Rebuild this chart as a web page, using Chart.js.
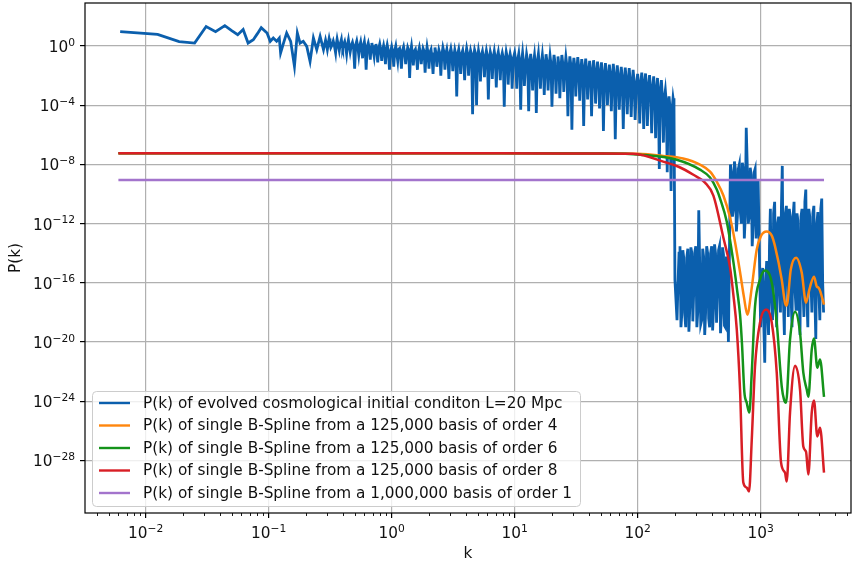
<!DOCTYPE html>
<html>
<head>
<meta charset="utf-8">
<script src="https://cdn.jsdelivr.net/npm/chart.js@4.4.1/dist/chart.umd.min.js"></script>
<style>
  html, body { margin: 0; padding: 0; background: #fff; }
</style>
</head>
<body>
<canvas id="pk" width="853" height="568"></canvas>
<script>
// tick labels (powers of ten)
const xTickExp = [-2, -1, 0, 1, 2, 3];
const yTickExp = [-28, -24, -20, -16, -12, -8, -4, 0];

const seriesLabels = [
  'P(k) of evolved cosmological initial conditon L=20 Mpc',
  'P(k) of single B-Spline from a 125,000 basis of order 4',
  'P(k) of single B-Spline from a 125,000 basis of order 6',
  'P(k) of single B-Spline from a 125,000 basis of order 8',
  'P(k) of single B-Spline from a 1,000,000 basis of order 1'
];
const seriesColors = ['#0b5fad', '#ff860d', '#14931a', '#d81e25', '#a374cc'];

// evolved initial condition
const blueK = [
  0.0062, 0.0125, 0.0187, 0.025, 0.031, 0.037, 0.044, 0.050, 0.056, 0.062, 0.068, 0.075, 0.081, 0.087,
  0.097, 0.103, 0.109, 0.116, 0.122, 0.125, 0.132, 0.140, 0.151, 0.162, 0.171, 0.180, 0.191, 0.204, 0.217, 0.231, 0.246, 0.262, 0.279,
  // 0.3 - 1
  0.29, 0.295, 0.30, 0.305, 0.31, 0.315, 0.32, 0.3275, 0.335, 0.3425,
  0.35, 0.355, 0.36, 0.3675, 0.375, 0.3825, 0.39, 0.395, 0.40, 0.4075,
  0.415, 0.4225, 0.43, 0.4375, 0.445, 0.4525, 0.46, 0.47, 0.48, 0.49,
  0.50, 0.51, 0.52, 0.53, 0.54, 0.55, 0.56, 0.57, 0.58, 0.59,
  0.60, 0.61, 0.62, 0.6325, 0.645, 0.6575, 0.67, 0.68, 0.69, 0.705,
  0.72, 0.7325, 0.745, 0.7575, 0.77, 0.785, 0.80, 0.815, 0.83, 0.845,
  0.86, 0.875, 0.89, 0.905, 0.92, 0.94, 0.96, 0.98,
  // 1 - 10
  1.00, 1.02, 1.04, 1.06, 1.08, 1.10, 1.12, 1.14, 1.16, 1.18,
  1.20, 1.225, 1.25, 1.275, 1.30, 1.325, 1.35, 1.375, 1.40, 1.425,
  1.45, 1.475, 1.50, 1.53, 1.56, 1.59, 1.62, 1.65, 1.68, 1.71,
  1.74, 1.77, 1.80, 1.835, 1.87, 1.905, 1.94, 1.975, 2.01, 2.05,
  2.09, 2.13, 2.17, 2.21, 2.25, 2.29, 2.33, 2.375, 2.42, 2.465,
  2.51, 2.56, 2.61, 2.66, 2.71, 2.76, 2.81, 2.865, 2.92, 2.975,
  3.03, 3.085, 3.14, 3.2, 3.26, 3.32, 3.38, 3.445, 3.51, 3.575,
  3.64, 3.71, 3.78, 3.85, 3.92, 3.995, 4.07, 4.145, 4.22, 4.3,
  4.38, 4.465, 4.55, 4.635, 4.72, 4.81, 4.90, 4.99, 5.08, 5.175,
  5.27, 5.37, 5.47, 5.575, 5.68, 5.785, 5.89, 6.0, 6.11, 6.225,
  6.34, 6.46, 6.58, 6.705, 6.83, 6.96, 7.09, 7.225, 7.36, 7.5,
  7.64, 7.785, 7.93, 8.08, 8.23, 8.385, 8.54, 8.7, 8.86, 9.025,
  9.19, 9.365, 9.54, 9.77,
  // 10 - 100
  10.0, 10.2, 10.4, 10.6, 10.8, 11.0, 11.2, 11.4, 11.6, 11.8,
  12.0, 12.25, 12.5, 12.75, 13.0, 13.25, 13.5, 13.75, 14.0, 14.25,
  14.5, 14.75, 15.0, 15.3, 15.6, 15.9, 16.2, 16.5, 16.8, 17.1,
  17.4, 17.7, 18.0, 18.35, 18.7, 19.05, 19.4, 19.75, 20.1, 20.5,
  20.9, 21.3, 21.7, 22.1, 22.5, 22.9, 23.3, 23.75, 24.2, 24.65,
  25.1, 25.6, 26.1, 26.6, 27.1, 27.6, 28.1, 28.65, 29.2, 29.75,
  30.3, 30.85, 31.4, 32.0, 32.6, 33.2, 33.8, 34.45, 35.1, 35.75,
  36.4, 37.1, 37.8, 38.5, 39.2, 39.95, 40.7, 41.45, 42.2, 43.0,
  43.8, 44.65, 45.5, 46.35, 47.2, 48.1, 49.0, 49.9, 50.8, 51.75,
  52.7, 53.7, 54.7, 55.75, 56.8, 57.85, 58.9, 60.0, 61.1, 62.25,
  63.4, 64.6, 65.8, 67.05, 68.3, 69.6, 70.9, 72.25, 73.6, 75.0,
  76.4, 77.85, 79.3, 80.8, 82.3, 83.85, 85.4, 87.0, 88.6, 90.25,
  91.9, 93.65, 95.4, 97.7,
  // 100 - 200, then the drop
  100, 102, 104, 106, 108, 110, 112, 114, 116, 118,
  120, 122.5, 125, 127.5, 130, 132.5, 135, 137.5, 140, 142.5,
  145, 147.5, 150, 153, 156, 159, 162, 165, 168, 171,
  174, 177, 180, 183.5, 187, 190.5, 194, 197.5, 201,
  // low band
  209, 213, 217, 221, 225, 229, 233, 237, 242, 246, 251, 256, 261, 266, 271, 276, 281, 286, 292, 297,
  303, 308, 314, 320, 326, 332, 338, 344, 351, 357, 364, 371, 378, 385, 392, 400, 407, 415, 422, 430,
  438, 446, 455, 463, 472, 481, 490, 499, 508, 517, 527, 537, 547,
  // high band
  568, 579, 590, 601, 612, 623, 635, 647, 659, 671, 684, 697, 710, 723, 737, 750, 764, 778, 793, 808,
  823, 838, 854, 870, 886, 902, 919, 936, 954,
  // tail
  1000, 1020, 1040, 1060, 1080, 1100, 1120, 1140, 1160, 1180, 1200, 1225, 1250, 1275, 1300, 1325, 1350, 1375, 1400, 1425,
  1450, 1475, 1500, 1530, 1560, 1590, 1620, 1650, 1680, 1710, 1740, 1770, 1800, 1835, 1870, 1905, 1940, 1975, 2010, 2050,
  2090, 2130, 2170, 2210, 2250, 2290, 2330, 2375, 2420, 2465, 2510, 2560, 2610, 2660, 2710, 2760, 2810, 2865, 2920, 2975,
  3030, 3085, 3140, 3195, 3250
];
const blueP = [
  9.4, 6.2, 2.0, 1.6, 21, 9.4, 24, 11, 5.9, 13, 1.6, 2.7, 6.9, 17.5,
  7.7, 2.1, 3.5, 2.1, 3.5, 0.34, 1.6, 7.7, 2.1, 0.043, 7.7, 1.6, 2.1, 0.95, 0.093, 3.5, 0.57, 4.5, 0.57,
  // 0.3 - 1
  2.5, 1.3, 0.6, 1.5, 3.2, 1.6, 0.8, 1.2, 2.2, 1.0,
  0.35, 1.4, 3.0, 1.2, 0.5, 1.5, 2.8, 1.1, 0.7, 1.3,
  2.0, 0.9, 0.3, 1.2, 2.6, 1.0, 0.4, 1.1, 1.8, 0.8,
  0.03, 1.2, 2.2, 0.9, 0.25, 1.0, 1.9, 0.7, 0.15, 1.1,
  2.0, 0.6, 0.025, 0.9, 1.6, 0.7, 0.12, 0.8, 1.6, 0.6,
  0.2, 0.9, 1.4, 0.5, 0.08, 0.7, 1.4, 0.6, 0.1, 0.55,
  1.1, 0.5, 0.06, 0.6, 1.2, 0.45, 0.025, 0.4,
  // 1 - 10
  0.9, 0.4, 0.04, 0.5, 1.0, 0.3, 0.1, 0.6, 0.7, 0.25,
  0.03, 0.5, 0.9, 0.35, 0.06, 0.3, 0.8, 0.5, 7e-3, 0.4,
  1.0, 0.3, 0.05, 0.45, 0.6, 0.2, 0.025, 0.4, 0.8, 0.35,
  0.06, 0.3, 0.7, 0.45, 0.016, 0.25, 0.9, 0.35, 0.03, 0.4,
  0.6, 0.15, 0.013, 0.3, 0.8, 0.35, 0.04, 0.2, 0.55, 0.3,
  0.01, 0.25, 0.8, 0.4, 0.025, 0.3, 0.6, 0.2, 6e-3, 0.35,
  0.7, 0.3, 0.02, 0.2, 0.55, 0.25, 4e-4, 0.3, 0.6, 0.2,
  0.013, 0.3, 0.5, 0.15, 5e-3, 0.25, 0.7, 0.3, 0.01, 0.2,
  0.5, 0.25, 2.5e-5, 0.2, 0.55, 0.3, 1e-4, 0.15, 0.5, 0.2,
  4e-3, 0.25, 0.45, 0.15, 8e-3, 0.2, 0.5, 0.22, 2.5e-4, 0.12,
  0.4, 0.2, 6e-3, 0.18, 0.45, 0.15, 1.6e-3, 0.2, 0.4, 0.12,
  5e-3, 0.18, 0.35, 0.15, 8e-5, 0.1, 0.4, 0.18, 2.5e-3, 0.12,
  0.3, 0.13, 1.3e-3, 0.15,
  // 10 - 100
  0.35, 0.1, 1.3e-3, 0.12, 0.3, 0.06, 5e-5, 0.1, 0.35, 0.08,
  2e-3, 0.05, 0.28, 0.1, 4e-5, 0.06, 0.3, 0.04, 1e-3, 0.08,
  0.25, 0.05, 3e-5, 0.09, 0.3, 0.04, 1.3e-3, 0.07, 0.25, 0.05,
  5e-4, 0.03, 0.28, 0.08, 1e-3, 0.04, 0.22, 0.06, 8e-5, 0.03,
  0.25, 0.07, 6e-4, 0.04, 0.2, 0.05, 3e-4, 0.025, 0.25, 0.06,
  8e-4, 0.03, 0.18, 0.045, 1.8e-5, 0.02, 0.2, 0.05, 2.2e-6, 0.025,
  0.16, 0.04, 4e-4, 0.02, 0.18, 0.035, 2e-4, 0.015, 0.13, 0.03,
  4e-6, 0.02, 0.14, 0.025, 2.5e-4, 0.012, 0.1, 0.02, 1.8e-5, 0.01,
  0.11, 0.02, 1.3e-4, 0.008, 0.09, 0.015, 6e-5, 0.01, 0.08, 0.012,
  1.8e-6, 0.006, 0.07, 0.012, 1e-4, 0.005, 0.056, 0.01, 4e-5, 0.006,
  0.063, 0.009, 5e-7, 0.004, 0.05, 0.008, 5e-5, 0.004, 0.04, 0.006,
  2.5e-6, 0.003, 0.035, 0.005, 2.5e-5, 0.003, 0.032, 0.004, 1.6e-5, 0.002,
  0.025, 0.004, 1e-5, 0.002,
  // 100 - 200, then the drop
  0.013, 2e-3, 6e-6, 3e-3, 0.016, 1.5e-3, 2.5e-6, 3e-3, 0.014, 1e-3,
  4e-6, 2e-3, 0.011, 8e-4, 1.3e-6, 1.5e-3, 0.009, 6e-4, 6e-7, 1e-3,
  0.007, 5e-4, 5e-9, 8e-4, 5e-3, 3e-4, 3e-7, 3e-4, 1e-3, 1.5e-4,
  3e-9, 1e-4, 4e-4, 6e-5, 1.6e-10, 5e-5, 3e-4, 1e-4, 1.6e-16,
  // low band
  3e-19, 1e-16, 1e-14, 3e-14, 1e-19, 1e-18, 1.6e-14, 5e-15, 6e-19, 1e-19, 5e-15, 2e-14, 5e-20, 3e-18, 2.5e-14, 1e-14, 2.5e-19, 3e-17, 1.3e-14, 3e-14,
  1e-19, 1e-18, 8e-12, 1e-15, 1.6e-19, 3e-19, 2e-14, 6e-15, 3e-20, 1e-18, 3e-14, 1e-14, 4e-19, 1e-19, 1e-14, 3e-14, 6e-20, 3e-18, 4e-14, 1e-14,
  2e-19, 3e-17, 1.6e-14, 3e-14, 4e-20, 1e-18, 2.5e-14, 8e-15, 1.3e-19, 1e-19, 6e-15, 1e-16, 1e-20,
  // high band
  1e-8, 3e-9, 3e-12, 1e-11, 1.6e-8, 5e-9, 3e-13, 3e-12, 5e-9, 1e-8, 6e-12, 1e-12, 1.3e-8, 5e-9, 1e-13, 3e-12, 3e-6, 1e-8, 1e-12, 3e-12,
  6e-9, 2e-9, 3e-14, 1e-12, 3e-9, 5e-9, 1e-13, 1e-11, 1e-9,
  // tail
  1e-19, 3e-16, 1e-15, 2e-19, 4e-22, 1e-16, 3e-15, 1e-18, 3e-20, 3e-14, 1e-11, 1e-17, 3e-19, 5e-12, 3e-11, 1e-16, 1e-19, 1e-12, 3e-12, 3e-17,
  1e-18, 1e-11, 8e-9, 1e-17, 3e-20, 5e-12, 1.6e-11, 3e-16, 5e-19, 1e-11, 3e-12, 1e-17, 1e-19, 3e-12, 3e-11, 3e-17, 1.6e-18, 5e-12, 1.6e-12, 1e-16,
  3e-20, 3e-12, 1e-11, 3e-17, 5e-19, 3e-11, 2e-10, 1e-17, 1e-19, 1e-11, 3e-12, 3e-16, 1e-18, 5e-12, 1.6e-11, 1e-17, 1.6e-20, 1e-12, 6e-12, 3e-17,
  3e-19, 1e-11, 5e-11, 1e-16, 1e-18
];

// single B-spline spectra
const order4K = [0.006, 7.6, 50, 100, 161, 234, 321, 388, 440, 498, 564, 619, 680, 733, 780, 847, 929, 1007, 1121, 1232, 1310, 1485, 1578, 1630, 1758, 1941, 2159, 2339, 2489, 2717, 2857, 2958, 3040, 3276];
const order4P = [5.7e-8, 5.7e-8, 5.6e-8, 5.3e-8, 3.8e-8, 2.5e-8, 9.8e-9, 3.3e-9, 6.9e-10, 8e-11, 2.6e-12, 5.8e-14, 5.4e-16, 1e-17, 7.1e-19, 4.8e-17, 1.7e-14, 1.5e-13, 3e-13, 1.55e-13, 2.9e-14, 1.6e-16, 4.6e-18, 2.9e-18, 7.8e-16, 5e-15, 4.9e-16, 4.6e-18, 3.5e-17, 2.6e-16, 5.8e-17, 4.7e-17, 3e-17, 3.4e-18];

const order6K = [0.006, 7.6, 50, 105, 208, 321, 388, 440, 468, 530, 600, 643, 680, 706, 737, 771, 809, 847, 900, 988, 1086, 1232, 1352, 1485, 1550, 1609, 1734, 1905, 2091, 2224, 2371, 2444, 2603, 2717, 2890, 3040, 3276];
const order6P = [5.7e-8, 5.7e-8, 5.5e-8, 4.6e-8, 2.1e-8, 4.5e-9, 1.3e-9, 2e-10, 4.9e-11, 1.4e-12, 2.7e-15, 3.5e-17, 7.1e-19, 6.6e-21, 4.5e-24, 8e-25, 1.7e-25, 8.6e-23, 2.5e-18, 1.64e-16, 6.7e-16, 1.03e-16, 2e-19, 9.7e-24, 1.28e-24, 8e-25, 1.45e-20, 1.13e-18, 4.3e-20, 8.6e-23, 6.1e-24, 2e-24, 3.1e-21, 1.7e-20, 1.86e-22, 6.5e-22, 2e-24];

const order8K = [0.006, 7.6, 50, 92, 173, 215, 284, 353, 413, 498, 564, 600, 640, 680, 723, 771, 805, 847, 900, 988, 1107, 1232, 1352, 1466, 1578, 1630, 1734, 1905, 2091, 2224, 2339, 2444, 2603, 2717, 2890, 3040, 3276];
const order8P = [5.7e-8, 5.7e-8, 5.5e-8, 5.2e-8, 1.3e-8, 7e-9, 2e-9, 5.9e-10, 7.8e-11, 1.1e-13, 1.1e-15, 1.6e-17, 6.9e-20, 6.1e-24, 3.2e-30, 1.45e-30, 7.8e-31, 2.5e-27, 2.2e-22, 2e-19, 1.55e-18, 2e-19, 8.6e-23, 7.1e-29, 1.5e-29, 3.7e-30, 1.7e-25, 2.5e-22, 6.1e-24, 8.6e-28, 3.9e-28, 1.1e-29, 1.7e-25, 1.1e-24, 4.1e-27, 1.64e-26, 1.5e-29];

const order1K = [0.006, 1, 100, 3276];
const order1P = [8.9e-10, 8.9e-10, 8.9e-10, 8.9e-10];

const FONT = '"DejaVu Sans", sans-serif';
const FS = 15.3;

function pts(xs, ys) {
  return xs.map((x, i) => ({ x: x, y: ys[i] }));
}

function line(i, xs, ys, smooth, width) {
  return {
    label: seriesLabels[i],
    data: pts(xs, ys),
    borderColor: seriesColors[i],
    borderWidth: width,
    pointRadius: 0,
    tension: 0,
    cubicInterpolationMode: smooth ? 'monotone' : 'default',
    order: 5 - i
  };
}

// draws "10" with a raised exponent, like the mathtext labels
function pow10(ctx, e, x, y, align) {
  const exp = (e < 0 ? '\u2212' : '') + Math.abs(e);
  ctx.font = FS + 'px ' + FONT;
  const wb = ctx.measureText('10').width;
  ctx.font = (FS * 0.7) + 'px ' + FONT;
  const we = ctx.measureText(exp).width;
  let x0 = align === 'right' ? x - wb - we : x - (wb + we) / 2;
  ctx.textAlign = 'left';
  ctx.textBaseline = 'alphabetic';
  ctx.font = FS + 'px ' + FONT;
  ctx.fillText('10', x0, y);
  ctx.font = (FS * 0.7) + 'px ' + FONT;
  ctx.fillText(exp, x0 + wb, y - 6.5);
}

const decor = {
  id: 'decor',
  afterDraw(chart) {
    const ctx = chart.ctx, a = chart.chartArea;
    const xs = chart.scales.x, ys = chart.scales.y;
    ctx.save();
    ctx.fillStyle = '#111';
    ctx.strokeStyle = '#000';

    // minor ticks on k axis
    ctx.lineWidth = 0.9;
    for (let d = -3; d <= 3; d++) {
      for (let m = 2; m <= 9; m++) {
        const v = m * Math.pow(10, d);
        if (v < xs.min || v > xs.max) continue;
        const px = Math.round(xs.getPixelForValue(v)) + 0.5;
        ctx.beginPath();
        ctx.moveTo(px, a.bottom);
        ctx.lineTo(px, a.bottom + 3);
        ctx.stroke();
      }
    }

    // frame
    ctx.lineWidth = 1.2;
    ctx.strokeRect(a.left, a.top, a.right - a.left, a.bottom - a.top);

    // tick labels
    xTickExp.forEach(e => pow10(ctx, e, xs.getPixelForValue(Math.pow(10, e)), a.bottom + 25, 'center'));
    yTickExp.forEach(e => pow10(ctx, e, a.left - 10, ys.getPixelForValue(Math.pow(10, e)) + 6, 'right'));

    // axis titles
    ctx.font = FS + 'px ' + FONT;
    ctx.textAlign = 'center';
    ctx.textBaseline = 'alphabetic';
    ctx.fillText('k', (a.left + a.right) / 2, 558);
    ctx.save();
    ctx.translate(16, (a.top + a.bottom) / 2);
    ctx.rotate(-Math.PI / 2);
    ctx.textBaseline = 'middle';
    ctx.fillText('P(k)', 0, 0);
    ctx.restore();

    // legend, lower left inside the axes
    const bx = 92, by = 391, bw = 488, bh = 115;
    ctx.beginPath();
    ctx.roundRect(bx + 0.5, by + 0.5, bw, bh, 4);
    ctx.fillStyle = 'rgba(255,255,255,0.8)';
    ctx.fill();
    ctx.strokeStyle = '#cccccc';
    ctx.lineWidth = 1;
    ctx.stroke();
    ctx.font = FS + 'px ' + FONT;
    ctx.textAlign = 'left';
    ctx.textBaseline = 'middle';
    chart.data.datasets.forEach((ds, i) => {
      const ry = 403 + i * 22.5;
      ctx.strokeStyle = ds.borderColor;
      ctx.lineWidth = 2.4;
      ctx.beginPath();
      ctx.moveTo(99, ry);
      ctx.lineTo(130, ry);
      ctx.stroke();
      ctx.fillStyle = '#111';
      ctx.fillText(ds.label, 143, ry + 1);
    });
    ctx.restore();
  }
};

new Chart('pk', {
  type: 'line',
  data: {
    datasets: [
      line(0, blueK, blueP, false, 2.8),
      line(1, order4K, order4P, true, 2.5),
      line(2, order6K, order6P, true, 2.5),
      line(3, order8K, order8P, true, 2.5),
      line(4, order1K, order1P, false, 2.5)
    ]
  },
  options: {
    responsive: false,
    animation: false,
    devicePixelRatio: 1,
    layout: { padding: { left: 0, right: 2, top: 3, bottom: 0 } },
    plugins: { legend: { display: false }, tooltip: { enabled: false } },
    scales: {
      x: {
        type: 'logarithmic',
        min: 0.00321,
        max: 5430,
        afterBuildTicks: s => { s.ticks = xTickExp.map(e => ({ value: Math.pow(10, e) })); },
        afterFit: s => { s.height = 55; },
        ticks: { display: false, autoSkip: false },
        grid: { color: '#b0b0b0', lineWidth: 1.2, drawTicks: true, tickLength: 5, tickColor: '#000', tickWidth: 1.2 },
        border: { display: false }
      },
      y: {
        type: 'logarithmic',
        min: 2.8e-32,
        max: 813,
        afterBuildTicks: s => { s.ticks = yTickExp.map(e => ({ value: Math.pow(10, e) })); },
        afterFit: s => { s.width = 85; },
        ticks: { display: false, autoSkip: false },
        grid: { color: '#b0b0b0', lineWidth: 1.2, drawTicks: true, tickLength: 5, tickColor: '#000', tickWidth: 1.2 },
        border: { display: false }
      }
    }
  },
  plugins: [decor]
});
</script>
</body>
</html>
